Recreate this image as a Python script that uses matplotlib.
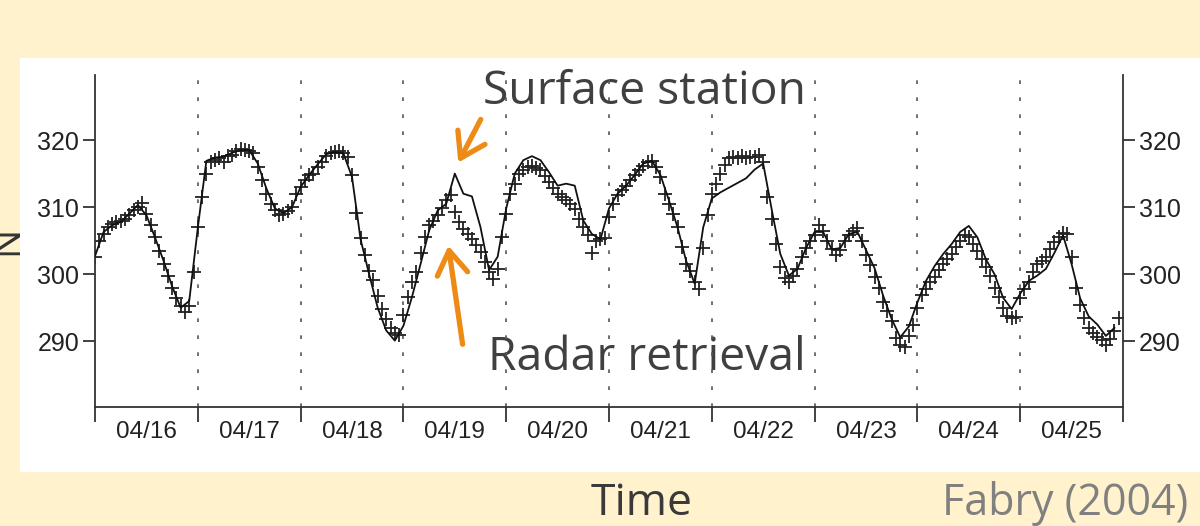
import numpy as np
import matplotlib
matplotlib.use("Agg")
import matplotlib.pyplot as plt
from matplotlib.patches import Rectangle, FancyArrowPatch

# Surface station refractivity, every 2 hours from 04/16 00:00
station_n = [
    302.7, 306.3, 307.3, 307.8, 309.0, 310.3, 308.8, 305.5, 302.0, 298.2, 295.0, 296.0,
    306.9, 316.9, 317.4, 317.5, 318.1, 318.5, 318.5, 316.5, 312.8, 309.8, 309.1, 310.0,
    313.0, 314.8, 316.4, 317.9, 318.2, 318.0, 314.5, 305.2, 300.0, 295.0, 291.6, 290.1,
    292.3, 296.6, 301.5, 306.5, 309.5, 310.5, 315.0, 312.0, 311.6, 307.0, 300.6, 302.6,
    309.8, 315.0, 317.0, 317.6, 317.0, 315.2, 313.2, 313.5, 313.2, 308.0, 306.0, 305.2,
    309.8, 312.0, 313.2, 314.8, 316.5, 316.9, 314.8, 311.0, 307.0, 302.0, 298.6, 307.0,
    311.3, 312.2, 312.9, 313.6, 314.3, 315.6, 316.5, 309.6, 303.0, 299.8, 300.8, 303.9,
    306.3, 306.3, 303.7, 303.9, 306.0, 306.3, 303.6, 300.9, 296.8, 293.3, 290.6, 292.2,
    295.8, 299.0, 301.2, 303.0, 304.5, 306.3, 307.2, 305.5, 302.2, 300.0, 296.5, 294.8,
    297.1, 299.0, 299.8, 300.8, 303.2, 305.8, 301.5, 296.4, 293.7, 292.5, 290.8, 292.0,
]

# Radar retrieval, hourly from 04/16 00:00
radar_n = [
    302.5, 305.0, 306.0, 307.0, 307.5, 307.8, 308.0, 308.2, 308.8, 309.5, 310.0, 310.6,
    309.0, 307.4, 305.6, 303.5, 301.5, 299.8, 298.0, 296.5, 295.2, 294.3, 295.2, 300.4,
    307.0, 311.5, 315.0, 316.8, 317.0, 317.3, 316.8, 317.6, 317.8, 318.3, 318.6, 318.5,
    318.4, 318.0, 316.0, 314.0, 312.0, 310.5, 309.5, 308.8, 309.0, 309.4, 310.0, 312.0,
    313.0, 314.0, 314.8, 315.0, 316.0, 316.8, 317.6, 318.0, 318.2, 318.3, 318.0, 317.5,
    314.8, 309.1, 305.4, 302.8, 300.5, 299.2, 296.8, 294.8, 293.3, 292.0, 291.3, 291.0,
    293.9, 296.6, 298.8, 300.3, 303.1, 305.5, 307.3, 308.0, 308.8, 309.8, 311.0, 311.8,
    309.3, 307.8, 306.8, 306.0, 305.3, 304.3, 303.3, 301.8, 300.3, 299.3, 300.8, 305.5,
    309.0, 312.0, 313.5, 315.0, 315.6, 316.0, 316.2, 315.8, 315.5, 314.6, 313.8, 312.8,
    312.0, 311.5, 311.0, 310.5, 309.7, 308.2, 307.0, 305.8, 303.2, 305.0, 305.2, 305.4,
    308.5, 310.5, 311.8, 312.5, 313.2, 314.0, 314.8, 315.6, 316.2, 316.8, 316.9, 316.0,
    314.5, 312.0, 310.5, 309.0, 307.0, 304.0, 301.5, 300.5, 298.8, 297.8, 303.9, 308.8,
    312.0, 313.5, 315.0, 316.3, 317.3, 317.5, 317.3, 317.6, 317.3, 317.5, 317.4, 317.8,
    316.8, 311.5, 308.2, 304.5, 301.0, 299.4, 298.8, 299.8, 300.8, 302.5, 303.9, 305.0,
    305.8, 307.3, 306.5, 305.0, 303.8, 302.8, 303.6, 305.0, 305.8, 306.5, 306.9, 305.0,
    302.8, 301.3, 299.6, 298.0, 295.8, 294.5, 293.0, 290.5, 289.5, 289.1, 290.8, 292.5,
    294.9, 296.9, 297.8, 298.8, 299.6, 300.6, 301.5, 302.3, 303.0, 304.0, 305.0, 305.8,
    305.6, 304.5, 303.5, 302.3, 301.0, 299.8, 298.0, 296.6, 295.0, 293.8, 293.4, 293.6,
    296.5, 297.8, 298.8, 300.3, 301.5, 302.0, 302.5, 303.8, 304.8, 305.6, 306.2, 306.0,
    302.5, 298.0, 295.4, 293.5, 292.0, 291.2, 290.6, 290.2, 289.5, 290.3, 291.5, 293.4,
]

day_labels = ["04/16", "04/17", "04/18", "04/19", "04/20",
              "04/21", "04/22", "04/23", "04/24", "04/25"]
y_ticks = [290, 300, 310, 320]

W, H = 1200, 526
BG = "#FFF2CC"
ORANGE = "#ED8B16"
tick_font = ["Liberation Sans Narrow", "Liberation Sans"]
slide_font = ["Open Sans", "DejaVu Sans"]


def fx(x):
    return x / W


def fy(y):
    return 1 - y / H


fig = plt.figure(figsize=(12, 5.26), dpi=100)
fig.patch.set_facecolor(BG)

# axis label peeking out from behind the white panel
fig.text(fx(7), fy(240), "N", rotation=90, ha="center", va="center",
         fontsize=28, color="#333333", family=slide_font, zorder=-5)
fig.add_artist(Rectangle((fx(20), fy(472)), fx(1180), (472 - 58) / H,
                         transform=fig.transFigure, facecolor="white",
                         edgecolor="none", zorder=-4))

ax = fig.add_axes([fx(95), fy(407), fx(1123) - fx(95), fy(75) - fy(407)])
ax.set_facecolor("none")

t_station = np.arange(len(station_n)) * 2 / 24
t_radar = np.arange(len(radar_n)) / 24

for d in range(1, 10):
    ax.axvline(d, color="#555555", lw=1.2, ls=(0, (2.2, 8)), zorder=1)

ax.plot(t_station, station_n, color="#111111", lw=1.3, zorder=3)
ax.plot(t_radar, radar_n, ls="none", marker="+", ms=10, mew=1.3,
        color="#222222", zorder=2)

ax.set_xlim(0, 10)
ax.set_ylim(280.2, 329.7)

ax.spines["top"].set_visible(False)
for side in ["left", "right", "bottom"]:
    ax.spines[side].set_linewidth(1.3)
    ax.spines[side].set_color("#333333")

ax.set_xticks(range(11))
ax.set_xticklabels([])
ax.set_xticks(np.arange(10) + 0.5, minor=True)
ax.set_xticklabels(day_labels, minor=True)
ax.tick_params(axis="x", which="major", direction="out", length=11,
               width=1.3, color="#333333")
ax.tick_params(axis="x", which="minor", length=0, pad=10, labelsize=17.5,
               labelcolor="#222222")

ax.set_yticks(y_ticks)
ax.tick_params(axis="y", direction="out", length=8.5, width=1.3,
               color="#333333", labelsize=18, labelcolor="#222222",
               left=True, right=True, labelleft=True, labelright=True, pad=3)

for lab in ax.get_xticklabels(minor=True) + ax.get_yticklabels():
    lab.set_family(tick_font)

# slide annotations
fig.text(fx(483), fy(104), "Surface station", fontsize=33.3, color="#404040",
         family=slide_font, ha="left", va="baseline", zorder=-1)
fig.text(fx(488), fy(370), "Radar retrieval", fontsize=33.3, color="#404040",
         family=slide_font, ha="left", va="baseline", zorder=-1)
fig.text(fx(591), fy(515), "Time", fontsize=32, color="#3a3a3a",
         family=slide_font, ha="left", va="baseline")
fig.text(fx(942), fy(515), "Fabry (2004)", fontsize=31, color="#808080",
         family=slide_font, ha="left", va="baseline")

for tail, head in [((482, 117), (457, 165)), ((463, 347), (448, 243))]:
    fig.add_artist(FancyArrowPatch((fx(tail[0]), fy(tail[1])),
                                   (fx(head[0]), fy(head[1])),
                                   transform=fig.transFigure,
                                   arrowstyle="->,head_length=0.85,head_width=0.55",
                                   mutation_scale=20, lw=3.8, color=ORANGE,
                                   zorder=5))

fig.savefig("out.png", dpi=100, facecolor=BG)
